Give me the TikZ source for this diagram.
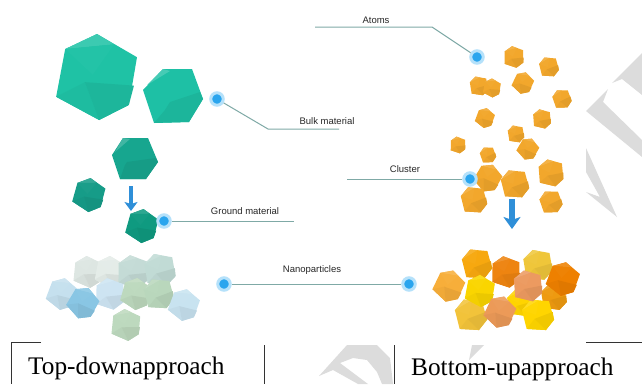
\documentclass[tikz,border=0pt]{standalone}
\usepackage{fontspec}
\setmainfont{Liberation Serif}
\newfontfamily\lblfont{Liberation Sans}
\usetikzlibrary{arrows.meta}
\definecolor{wm}{HTML}{DCDCDC}
\definecolor{leader}{HTML}{7FA9A6}
\definecolor{halo}{HTML}{B5E1FA}
\definecolor{core}{HTML}{2AA5EE}
\definecolor{arrowblue}{HTML}{2F8FD8}
\definecolor{rulec}{HTML}{333333}
\definecolor{tealA}{HTML}{1EC0A5}
\definecolor{tealB}{HTML}{17A68F}
\tikzset{
  x=1pt,y=-1pt,
  wmark/.style={fill=wm,draw=none},
  dotnode/.style={circle,fill=core,draw=halo,line width=3pt,minimum size=12.5pt,inner sep=0pt},
  leaderline/.style={draw=leader,line width=1pt},
  smalllabel/.style={font=\lblfont\fontsize{9.5}{11}\selectfont,text=black!85,inner sep=0pt},
  biglabel/.style={font=\fontsize{25.3}{28}\selectfont,text=black,inner sep=0pt,anchor=base west},
  tablerule/.style={draw=rulec,line width=1pt},
  flowarrow/.style={draw=arrowblue},
}
\newcommand{\gem}[5]{%
  \definecolor{gemc}{HTML}{#5}%
  \begin{scope}[shift={(#1,#2)},rotate=#4,scale=#3]
    \fill[gemc] (0,-1)--(.93,-.46)--(.74,.65)--(.05,1)--(-.95,.46)--(-.74,-.65)--cycle;
    \fill[gemc!87!white] (0,-1)--(.4,-.76)--(-.74,-.65)--cycle;
    \fill[gemc!97!black] (-.95,.46)--(-.28,.12)--(.05,1)--cycle;
    \fill[gemc!94!black] (-.28,.12)--(.86,.2)--(.74,.65)--(.05,1)--cycle;
    \fill[gemc!98!white] (-.74,-.65)--(.4,-.76)--(-.1,-.05)--cycle;
  \end{scope}}
\begin{document}
\begin{tikzpicture}
\useasboundingbox (0,0) rectangle (642,384);
% watermark
\fill[wmark] (612,83)--(642,53)--(642,95)--(622,79)--cycle;
\fill[wmark] (586,111)--(608,89)--(603,102)--(642,140)--(642,157)--cycle;
\fill[wmark] (586,148)--(617,217)--(586,192)--(600,197)--(586,172)--cycle;
\fill[wmark] (319,376)--(347,345)--(377,345)--(390,358)--(393,384)--(382,384)--(377,372)--(367,360)--(353,358)--(340,363)--(368,384)--(358,384)--(333,370)--cycle;
\fill[wmark] (469,360)--(472,345)--(484,345)--cycle;
% teal gems
\gem{97}{77}{43}{0}{1FC2A5}
\fill[tealA] (163,69)--(192,69)--(203,99)--(189,122)--(154,123)--(143,90)--cycle;
\fill[tealA!82!white] (163,69)--(170,71)--(147,85)--cycle;
\fill[tealA!94!black] (165,110)--(170,102)--(200,92)--(203,99)--(189,122)--(154,123)--cycle;
\fill[tealB] (123,138)--(148,138)--(158,162)--(146,179)--(120,179)--(112,155)--cycle;
\fill[tealB!82!white] (123,138)--(130,139)--(115,152)--cycle;
\fill[tealB!94!black] (125,165)--(127,162)--(156,158)--(158,162)--(146,179)--(120,179)--cycle;
\gem{89}{195}{17}{-5}{169C88}
\gem{142}{226}{17}{-5}{0F9A80}
% pale cluster
\gem{88}{272}{16}{5}{DDE6E2}
\gem{110}{272}{16}{0}{E4ECE8}
\gem{133}{272}{17}{10}{C4DBD6}
\gem{160}{270}{17}{20}{C1DBD5}
\gem{62}{294}{16}{-10}{C5E0EE}
\gem{110}{294}{16}{10}{CDE4F2}
\gem{83}{303}{16}{-20}{89C6E4}
\gem{136}{294}{16}{-5}{BDD9BE}
\gem{159}{294}{16}{25}{B9D7BC}
\gem{184}{305}{16}{-10}{C8E3F0}
\gem{126}{325}{16}{5}{BDD9BE}
% orange atoms
\gem{514}{57}{11}{10}{F2A72C}
\gem{549}{67}{10.5}{25}{F2A72C}
\gem{479}{86}{10}{20}{F2A72C}
\gem{492}{88}{9.5}{0}{F2A72C}
\gem{523}{83}{11}{-15}{F2A72C}
\gem{562}{99}{10}{30}{F2A72C}
\gem{485}{118}{10}{-10}{F2A72C}
\gem{542}{119}{10}{15}{F2A72C}
\gem{516}{134}{9}{20}{F2A72C}
\gem{528}{149}{11}{-20}{F2A72C}
\gem{458}{145}{8.5}{10}{F2A72C}
\gem{488}{155}{8.5}{30}{F2A72C}
\gem{488}{178}{14}{-20}{F2A72C}
\gem{515}{184}{15}{25}{F2A72C}
\gem{551}{173}{14}{15}{F2A72C}
\gem{474}{200}{14}{25}{F2A72C}
\gem{551}{202}{12}{30}{F2A72C}
% yellow-orange cluster
\gem{554}{297}{14}{20}{EE9A10}
\gem{538}{265}{16}{20}{EFC63A}
\gem{477}{264}{16}{25}{F7A80F}
\gem{506}{272}{16}{10}{EE8410}
\gem{449}{286}{16}{-15}{F7AE3A}
\gem{471}{315}{17}{25}{F2C33A}
\gem{480}{291}{16}{0}{FAD500}
\gem{520}{303}{14}{20}{FFD400}
\gem{500}{312}{16}{-15}{EC9A58}
\gem{538}{315}{17}{25}{FFD500}
\gem{528}{286}{16}{15}{EC9A60}
\gem{563}{279}{17}{-10}{EE8000}
% blue arrows
\coordinate (la) at (131,186); \coordinate (lb) at (131,211);
\coordinate (ra) at (512,199); \coordinate (rb) at (512,229);
\draw[flowarrow,line width=4pt,-{Stealth[inset=2pt,length=9pt,width=13pt]}] (la)--(lb);
\draw[flowarrow,line width=6pt,-{Stealth[inset=3pt,length=12pt,width=17pt]}] (ra)--(rb);
% dots and labels
\node[dotnode] (dbulk) at (217,99) {};
\node[dotnode] (datoms) at (477,57) {};
\node[dotnode] (dcluster) at (470,179) {};
\node[dotnode] (dground) at (164,221) {};
\node[dotnode] (dnanol) at (224,284) {};
\node[dotnode] (dnanor) at (409,284) {};
\coordinate (kbulk) at (268,129); \coordinate (ebulk) at (339,129);
\coordinate (katoms) at (432,27); \coordinate (eatoms) at (315,27);
\coordinate (ecluster) at (347,179);
\coordinate (eground) at (294,221);
\draw[leaderline] (dbulk)--(kbulk)--(ebulk);
\draw[leaderline] (datoms)--(katoms)--(eatoms);
\draw[leaderline] (dcluster)--(ecluster);
\draw[leaderline] (dground)--(eground);
\draw[leaderline] (dnanol)--(dnanor);
\node[smalllabel] (lbulk) at (327,121) {Bulk material};
\node[smalllabel] (latoms) at (376,20) {Atoms};
\node[smalllabel] (lcluster) at (405,169) {Cluster};
\node[smalllabel] (lground) at (245,211) {Ground material};
\node[smalllabel] (lnano) at (312,270) {Nanoparticles};
% table fragments
\draw[tablerule] (41,342)--(11,342)--(11,384);
\draw[tablerule] (264,345)--(264,384);
\draw[tablerule] (394.5,345)--(394.5,384);
\draw[tablerule] (586,342)--(642,342);
\node[biglabel] (ltop) at (28,374) {Top-downapproach};
\node[biglabel] (lbot) at (411,375) {Bottom-upapproach};
\end{tikzpicture}
\end{document}
